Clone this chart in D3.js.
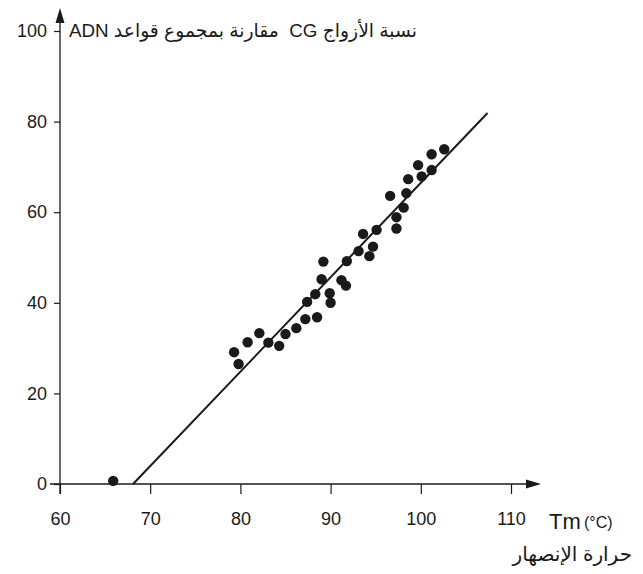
<!DOCTYPE html>
<html>
<head>
<meta charset="utf-8">
<script src="https://cdn.jsdelivr.net/npm/d3@7"></script>
<style>
  body { margin: 0; background: #fff; }
  text { font-family: "Liberation Sans", Arial, "DejaVu Sans", sans-serif; fill: #1a1a1a; }
</style>
</head>
<body>
<script>
const WIDTH = 643
const HEIGHT = 574

// melting temperature (°C) and CG percentage
const TM = [65.9, 79.3, 79.8, 80.8, 82.1, 83.1, 84.3, 85.0, 86.2, 87.2, 88.5, 87.4,
    88.3, 89.9, 90.0, 89.0, 91.2, 91.7, 89.2, 91.8, 93.1, 94.3, 94.7, 93.6,
    95.1, 97.3, 97.3, 98.1, 96.6, 98.4, 98.6, 100.1, 99.7, 101.2, 101.2, 102.6]
const CG = [0.7, 29.1, 26.5, 31.3, 33.3, 31.2, 30.5, 33.1, 34.4, 36.4, 36.8, 40.2,
    41.9, 42.1, 40.0, 45.2, 45.0, 43.8, 49.1, 49.2, 51.4, 50.3, 52.4, 55.2,
    56.1, 56.4, 58.9, 61.0, 63.6, 64.2, 67.3, 67.9, 70.4, 69.3, 72.8, 73.9]

// regression line end points
const FIT_TM = [68.1, 107.4]
const FIT_CG = [0, 81.9]

const X_TICKS = [60, 70, 80, 90, 100, 110]
const Y_TICKS = [0, 20, 40, 60, 80, 100]

const Y_TITLE = 'نسبة الأزواج CG  مقارنة بمجموع قواعد ADN'
const X_TITLE = 'حرارة الإنصهار'

const x = d3.scaleLinear().domain([60, 110]).range([60, 511])
const y = d3.scaleLinear().domain([0, 100]).range([484, 31])

const svg = d3.select('body')
    .append('svg')
    .attr('width', WIDTH)
    .attr('height', HEIGHT)

const INK = '#1a1a1a'

// x axis
const gx = svg.append('g')
    .attr('transform', `translate(0, ${y(0)})`)
    .call(d3.axisBottom(x).tickValues(X_TICKS).tickSize(10).tickPadding(18))
gx.select('.domain').remove()
gx.selectAll('line').attr('stroke', INK).attr('stroke-width', 1.2)
gx.selectAll('text').attr('font-size', 18).style('font-family', '"Liberation Sans", Arial, sans-serif').attr('fill', INK)

svg.append('line')
    .attr('x1', 50).attr('x2', 530)
    .attr('y1', y(0)).attr('y2', y(0))
    .attr('stroke', INK).attr('stroke-width', 1.3)
svg.append('path')
    .attr('d', `M541,${y(0)} L526,${y(0) - 4.5} L526,${y(0) + 4.5} Z`)
    .attr('fill', INK)

// y axis
const gy = svg.append('g')
    .attr('transform', `translate(${x(60)}, 0)`)
    .call(d3.axisLeft(y).tickValues(Y_TICKS).tickSize(6).tickPadding(7))
gy.select('.domain').remove()
gy.selectAll('line').attr('stroke', INK).attr('stroke-width', 1.2)
gy.selectAll('text').attr('font-size', 18).style('font-family', '"Liberation Sans", Arial, sans-serif').attr('fill', INK)

svg.append('line')
    .attr('x1', x(60)).attr('x2', x(60))
    .attr('y1', y(0) + 10).attr('y2', 20)
    .attr('stroke', INK).attr('stroke-width', 1.3)
svg.append('path')
    .attr('d', `M${x(60)},8 L${x(60) - 4.5},23 L${x(60) + 4.5},23 Z`)
    .attr('fill', INK)

// regression line
svg.append('line')
    .attr('x1', x(FIT_TM[0])).attr('y1', y(FIT_CG[0]))
    .attr('x2', x(FIT_TM[1])).attr('y2', y(FIT_CG[1]))
    .attr('stroke', INK)
    .attr('stroke-width', 2)

// points
svg.append('g')
    .selectAll('circle')
    .data(TM)
    .enter()
    .append('circle')
    .attr('cx', d => x(d))
    .attr('cy', (d, i) => y(CG[i]))
    .attr('r', 5.2)
    .attr('fill', INK)

// titles
svg.append('text')
    .attr('x', 417)
    .attr('y', 37)
    .attr('direction', 'rtl')
    .attr('text-anchor', 'start')
    .attr('font-size', 19)
    .style('white-space', 'pre')
    .attr('textLength', 348)
    .attr('lengthAdjust', 'spacingAndGlyphs')
    .text(Y_TITLE)

svg.append('text')
    .attr('x', 549)
    .attr('y', 529)
    .attr('font-size', 22)
    .text('Tm')
svg.append('text')
    .attr('x', 584)
    .attr('y', 528)
    .attr('font-size', 16)
    .text('(°C)')

svg.append('text')
    .attr('x', 632)
    .attr('y', 561)
    .attr('direction', 'rtl')
    .attr('text-anchor', 'start')
    .attr('font-size', 20)
    .text(X_TITLE)
</script>
</body>
</html>
